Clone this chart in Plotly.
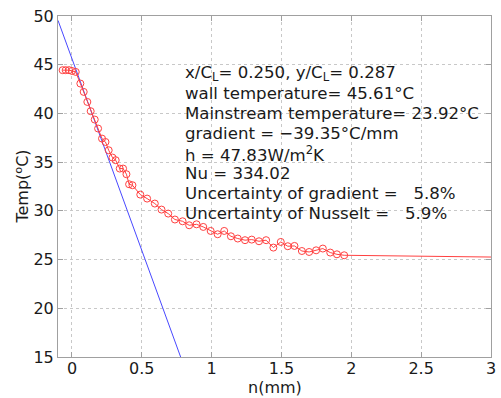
import plotly.graph_objects as go

# measured temperature profile (red circles)
meas_n = [-0.067, -0.045, -0.021, 0.0, 0.027, 0.060, 0.084, 0.110, 0.134, 0.163,
          0.187, 0.215, 0.240, 0.263, 0.290, 0.313, 0.342, 0.366, 0.390, 0.409,
          0.433, 0.489, 0.538, 0.593, 0.641, 0.689, 0.737, 0.792, 0.839, 0.892,
          0.940, 0.993, 1.043, 1.090, 1.138, 1.187, 1.239, 1.287, 1.339, 1.390,
          1.442, 1.495, 1.545, 1.593, 1.646, 1.698, 1.748, 1.796, 1.849, 1.897,
          1.949]
meas_T = [44.44, 44.44, 44.44, 44.36, 44.26, 43.07, 42.21, 41.18, 40.23, 39.37,
          38.45, 37.42, 37.07, 36.22, 35.47, 35.20, 34.34, 34.34, 33.76, 32.73,
          32.63, 31.67, 31.26, 30.75, 30.13, 29.72, 29.11, 28.93, 28.52, 28.62,
          28.35, 27.94, 27.60, 27.94, 27.39, 27.16, 26.99, 27.05, 26.88, 26.99,
          26.23, 26.81, 26.37, 26.40, 25.88, 25.78, 25.95, 26.13, 25.72, 25.54,
          25.44]

# extension of profile to free stream (red line, no markers)
ext_n = [1.949, 3.0]
ext_T = [25.44, 25.26]

# wall gradient fit line (blue)
fit_n = [-0.1, 0.85]
fit_T = [49.55, 12.17]

x_ticks = [0, 0.5, 1, 1.5, 2, 2.5, 3]
x_tick_labels = ["0", "0.5", "1", "1.5", "2", "2.5", "3"]
y_ticks = [15, 20, 25, 30, 35, 40, 45, 50]
y_tick_labels = ["15", "20", "25", "30", "35", "40", "45", "50"]

info_lines = [
    "x/C<sub>L</sub>= 0.250, y/C<sub>L</sub>= 0.287",
    "wall temperature= 45.61\u00b0C",
    "Mainstream temperature= 23.92\u00b0C",
    "gradient = \u221239.35\u00b0C/mm",
    "h = 47.83W/m<sup>2</sup>K",
    "Nu = 334.02",
    "Uncertainty of gradient =   5.8%",
    "Uncertainty of Nusselt =   5.9%",
]
info_x = 0.795
info_y = [44.13, 42.07, 40.0, 37.94, 35.88, 33.82, 31.75, 29.69]

FONT = "DejaVu Sans, sans-serif"
TXT = "#1a1a1a"

fig = go.Figure()
fig.add_trace(go.Scatter(x=fit_n, y=fit_T, mode="lines",
                         line=dict(color="#4848ff", width=1), showlegend=False))
fig.add_trace(go.Scatter(x=ext_n, y=ext_T, mode="lines",
                         line=dict(color="#ff4040", width=1), showlegend=False))
fig.add_trace(go.Scatter(x=meas_n, y=meas_T, mode="lines+markers",
                         line=dict(color="#ff4040", width=1),
                         marker=dict(symbol="circle-open", size=7,
                                     color="#ff4040", line=dict(width=1)),
                         showlegend=False))

for txt, yy in zip(info_lines, info_y):
    fig.add_annotation(x=info_x, y=yy, xref="x", yref="y", text=txt,
                       showarrow=False, xanchor="left", yanchor="middle",
                       font=dict(family=FONT, size=16.6, color=TXT))

fig.add_annotation(x=0.501, y=-0.088, xref="paper", yref="paper", text="n(mm)",
                   showarrow=False, xanchor="center", yanchor="middle",
                   font=dict(family=FONT, size=16, color=TXT))
fig.add_annotation(x=-0.083, y=0.5, xref="paper", yref="paper", text="Temp(<sup>o</sup>C)",
                   showarrow=False, xanchor="center", yanchor="middle", textangle=-90,
                   font=dict(family=FONT, size=16, color=TXT))

axis_common = dict(showgrid=True, gridcolor="#c8c8c8", griddash="dot", gridwidth=1,
                   showline=True, linecolor="#a0a0a0", linewidth=1, mirror="ticks",
                   ticks="inside", ticklen=5, tickcolor="#a0a0a0", zeroline=False,
                   automargin=False,
                   tickfont=dict(family=FONT, size=16, color=TXT))

fig.update_layout(
    width=501, height=398,
    margin=dict(l=58, r=10, t=16, b=41),
    paper_bgcolor="white", plot_bgcolor="white",
    xaxis=dict(range=[-0.1, 3], tickvals=x_ticks, ticktext=x_tick_labels,
               ticklabelstandoff=-3, **axis_common),
    yaxis=dict(range=[15, 50], tickvals=y_ticks, ticktext=y_tick_labels,
               **axis_common),
)

fig.write_html("out.html", config={"displayModeBar": False},
               post_script="document.body.style.margin='0px';document.body.style.overflow='hidden';")
